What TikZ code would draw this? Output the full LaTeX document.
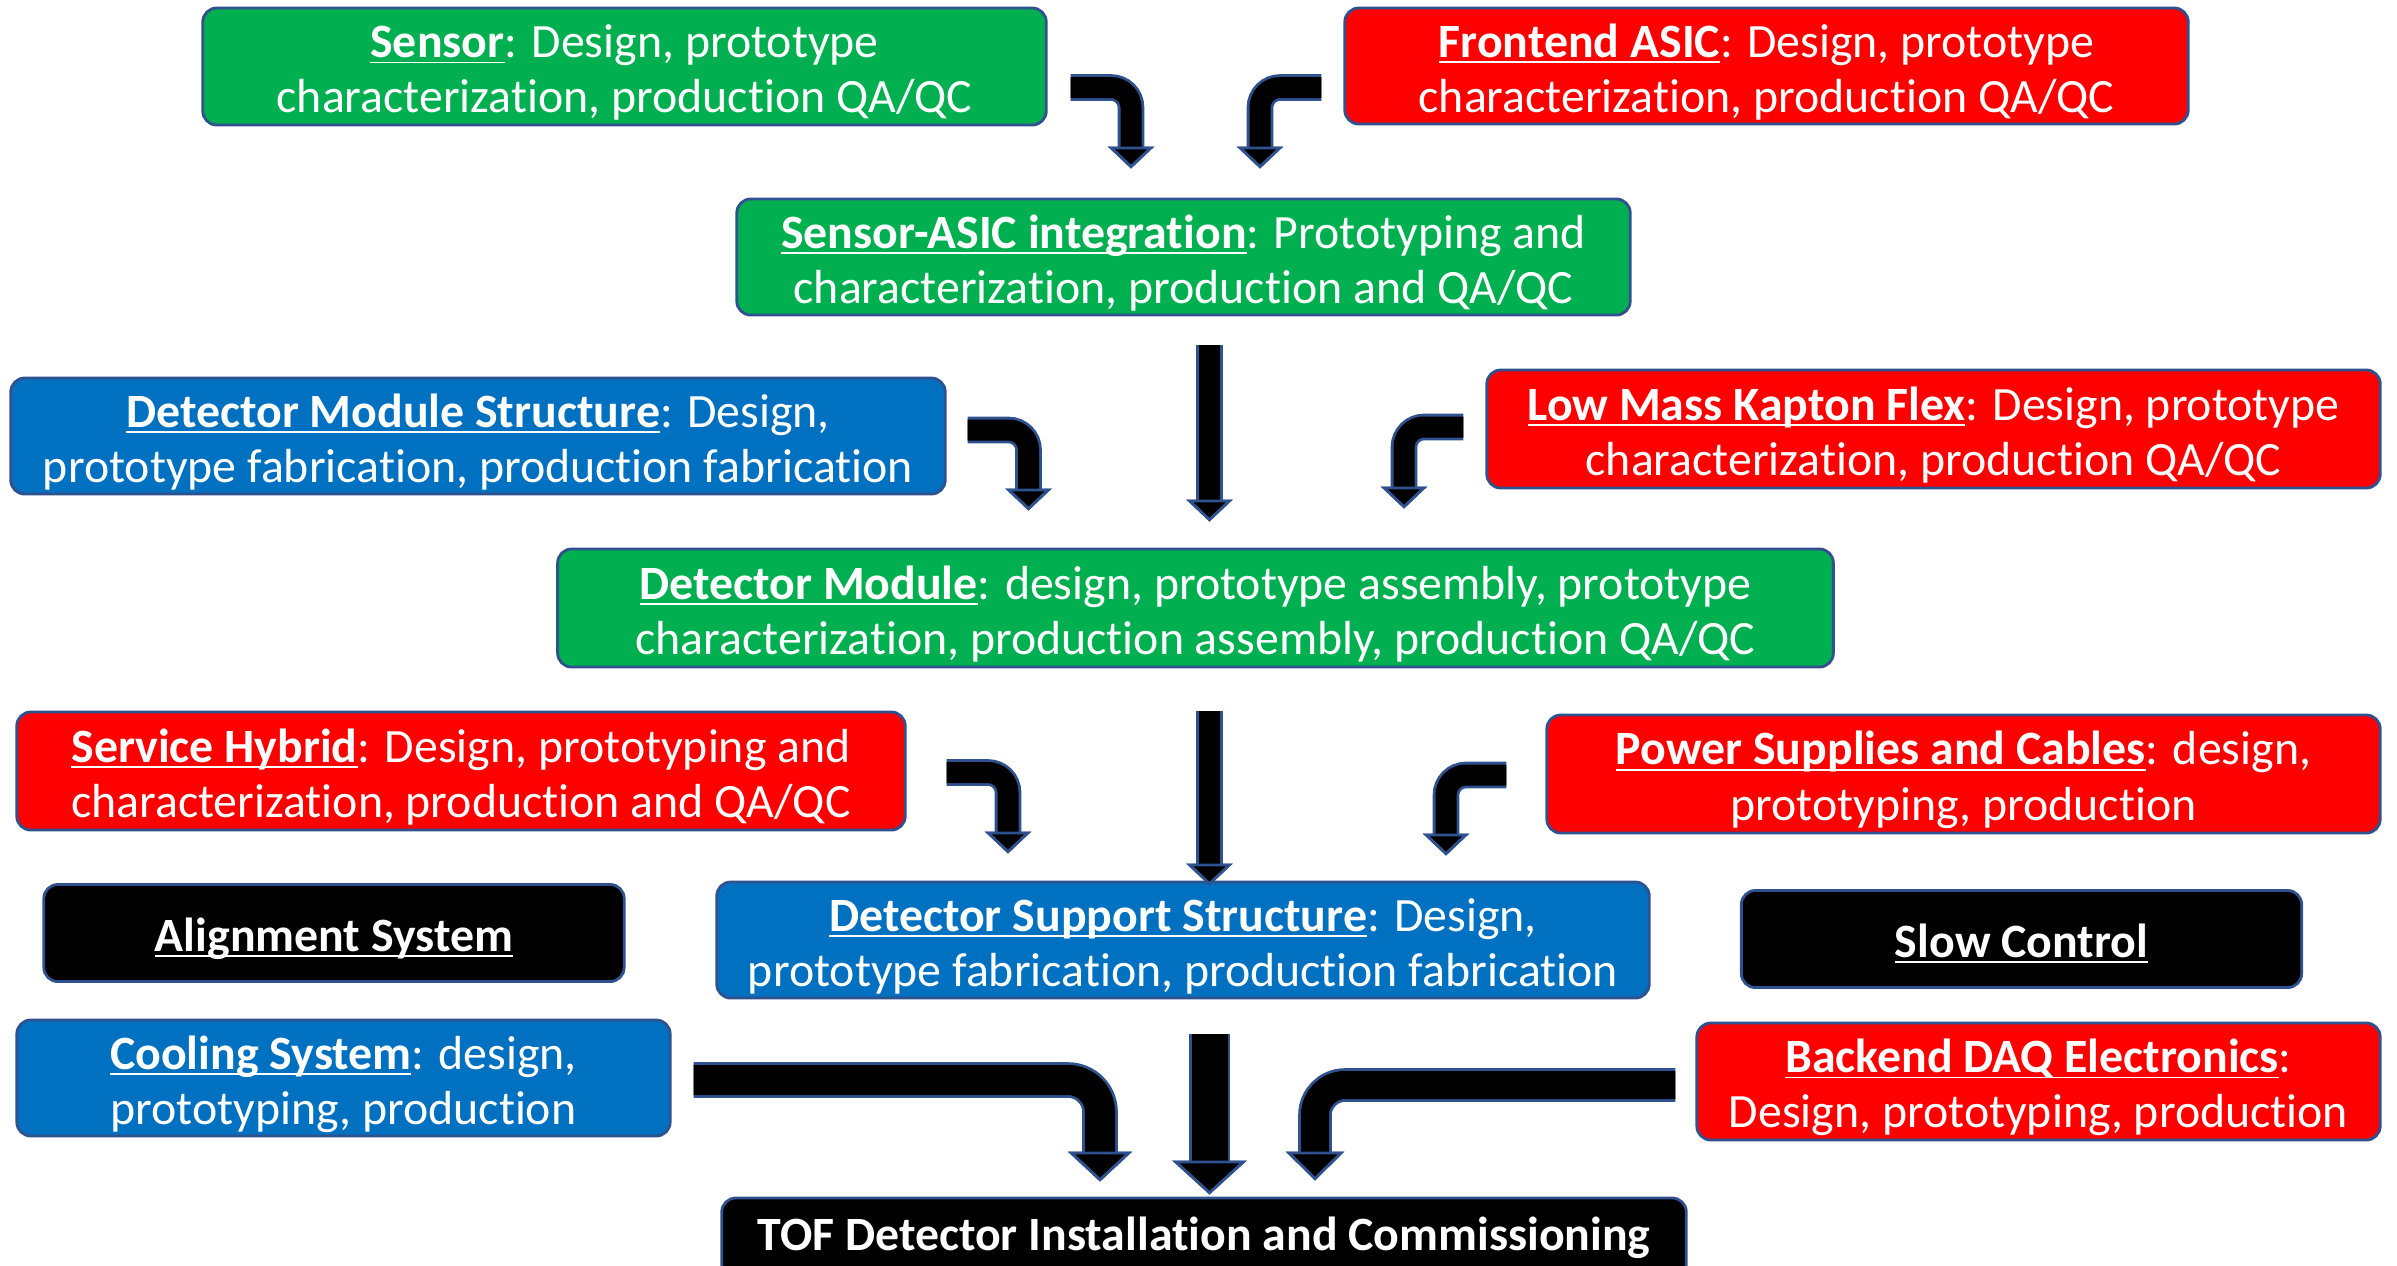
\documentclass[tikz,border=0pt]{standalone}
\usepackage{fontspec}
\setmainfont{Carlito}[Ligatures=NoCommon]
\usepackage{tikz}
\usetikzlibrary{arrows.meta, calc}
\definecolor{TaskGreen}{HTML}{00B050}
\definecolor{TaskRed}{HTML}{FF0000}
\definecolor{TaskBlue}{HTML}{0070C0}
\definecolor{EdgeNavy}{HTML}{2F528F}
\newcommand{\hdonly}[1]{\underline{\raisebox{0pt}[\height][0pt]{\textbf{#1}}}}
\newcommand{\hd}[1]{\rule{0pt}{12.9pt}\hdonly{#1}}
\tikzset{
  taskbox/.style={rectangle, rounded corners=0.14cm, draw=EdgeNavy, line width=0.8pt, text=white, align=center, inner sep=1pt, font=\fontsize{13.6}{15.7}\selectfont},
  greenbox/.style={taskbox, fill=TaskGreen},
  redbox/.style={taskbox, fill=TaskRed},
  bluebox/.style={taskbox, fill=TaskBlue},
  blackbox/.style={taskbox, fill=black},
  fatarrow/.style n args={3}{line width=#1, black, -{Triangle[width=#2, length=#3, line width=0.8pt, color=EdgeNavy, fill=black]}, preaction={draw=EdgeNavy, line width=#1+1.6pt}},
  smallarrow/.style={fatarrow={0.21cm}{0.46cm}{0.22cm}, rounded corners=0.2cm}
}
\begin{document}
\begin{tikzpicture}[x=0.01cm, y=-0.01cm]
  \useasboundingbox (0,0) rectangle (2397,1265);

  % first row
  \node[greenbox, minimum width=8.43cm, minimum height=1.17cm] (sensor) at (624.5,66.5) {\hd{Sensor}: Design, prototype\\characterization, production QA/QC};
  \node[redbox, minimum width=8.43cm, minimum height=1.16cm] (asic) at (1766.5,66) {\hd{Frontend ASIC}: Design, prototype\\characterization, production QA/QC};
  \node[greenbox, minimum width=8.93cm, minimum height=1.16cm] (integ) at (1183.5,257) {\hd{Sensor-ASIC integration}: Prototyping and\\characterization, production and QA/QC};

  % module level
  \node[bluebox, minimum width=9.34cm, minimum height=1.16cm] (structure) at (478,436) {\hd{Detector Module Structure}: Design,\\prototype fabrication, production fabrication};
  \node[redbox, minimum width=8.93cm, minimum height=1.18cm] (kapton) at (1933.5,429) {\hd{Low Mass Kapton Flex}: Design, prototype\\characterization, production QA/QC};
  \node[greenbox, minimum width=12.75cm, minimum height=1.18cm] (module) at (1195.5,608) {\hd{Detector Module}: design, prototype assembly, prototype\\characterization, production assembly, production QA/QC};

  % support level
  \node[redbox, minimum width=8.88cm, minimum height=1.18cm] (hybrid) at (461,771) {\hd{Service Hybrid}: Design, prototyping and\\characterization, production and QA/QC};
  \node[redbox, minimum width=8.33cm, minimum height=1.18cm] (power) at (1963.5,774) {\hd{Power Supplies and Cables}: design,\\prototyping, production};
  \node[blackbox, minimum width=5.80cm, minimum height=0.97cm] (align) at (334,933) {\rule{0pt}{12.3pt}\hdonly{Alignment System}};
  \node[bluebox, minimum width=9.32cm, minimum height=1.16cm] (support) at (1183,940) {\hd{Detector Support Structure}: Design,\\prototype fabrication, production fabrication};
  \node[blackbox, minimum width=5.60cm, minimum height=0.97cm] (slow) at (2021.5,939) {\rule{0pt}{12.3pt}\hdonly{Slow Control}};

  % services and final
  \node[bluebox, minimum width=6.53cm, minimum height=1.16cm] (cooling) at (343.5,1078) {\hd{Cooling System}: design,\\prototyping, production};
  \node[redbox, minimum width=6.83cm, minimum height=1.17cm] (daq) at (2038.5,1081.5) {\hd{Backend DAQ Electronics}:\\Design, prototyping, production};
  \node[blackbox, minimum width=9.64cm, minimum height=0.80cm] (tof) at (1204,1238) {\textbf{TOF Detector Installation and Commissioning}};

  % arrows
  \draw[smallarrow] ($(sensor.east)+(23,21)$) -| ($(integ.north)+(-52.5,-29)$);
  \draw[smallarrow] ($(asic.west)+(-22,21.5)$) -| ($(integ.north)+(76.5,-29)$);

  \draw[smallarrow] ($(structure.east)+(21,-6)$) -| ($(module.north)+(-167,-37)$);
  \draw[smallarrow] ($(integ.south)+(26,29)$) -- ($(module.north)+(14,-26)$);
  \draw[smallarrow] ($(kapton.west)+(-22,-2)$) -| ($(module.north)+(208.5,-39)$);

  \draw[smallarrow] ($(hybrid.east)+(40,1.5)$) -| ($(support.north)+(-175,-27)$);
  \draw[smallarrow] ($(module.south)+(14,43)$) -- ($(support.north)+(26.5,5)$);
  \draw[smallarrow] ($(power.west)+(-39,1)$) -| ($(support.north)+(263,-25)$);

  \draw[fatarrow={0.30cm}{0.64cm}{0.30cm}, rounded corners=0.32cm] ($(cooling.east)+(22,2)$) -| ($(tof.north)+(-104,-15)$);
  \draw[fatarrow={0.36cm}{0.74cm}{0.34cm}] ($(support.south)+(26.5,35)$) -- ($(tof.north)+(5.5,-2)$);
  \draw[fatarrow={0.28cm}{0.58cm}{0.29cm}, rounded corners=0.3cm] ($(daq.west)+(-20,3.5)$) -| ($(tof.north)+(111,-16)$);
\end{tikzpicture}
\end{document}
